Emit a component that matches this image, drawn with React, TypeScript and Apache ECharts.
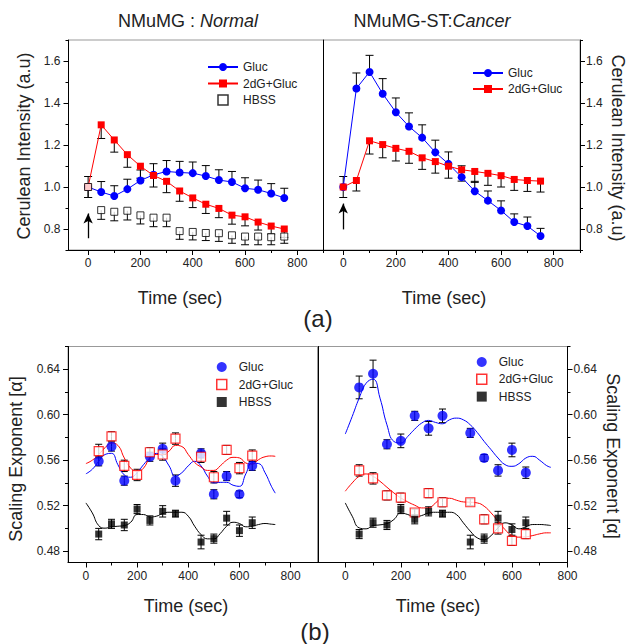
import React, { useEffect, useRef } from 'react';
import * as echarts from 'echarts';

// ---------- (a) Cerulean intensity ----------
const timeA = [0, 50, 100, 150, 200, 250, 300, 350, 400, 450, 500, 550, 600, 650, 700, 750];
const normGluc = [1.0, 0.976, 0.957, 0.99, 1.031, 1.058, 1.074, 1.069, 1.066, 1.052, 1.033, 1.024, 0.994, 0.987, 0.969, 0.948];
const normGlucErr = [0.05, 0.05, 0.049, 0.047, 0.05, 0.053, 0.052, 0.053, 0.053, 0.05, 0.049, 0.05, 0.05, 0.046, 0.047, 0.046];
const norm2dG = [1.0, 1.296, 1.224, 1.154, 1.099, 1.055, 1.027, 0.981, 0.948, 0.918, 0.898, 0.866, 0.858, 0.833, 0.814, 0.8];
const norm2dGErr = [0.05, 0.065, 0.058, 0.06, 0.057, 0.055, 0.054, 0.049, 0.046, 0.044, 0.044, 0.043, 0.043, 0.038, 0.038, 0.04];
const normHBSS = [1.0, 0.89, 0.882, 0.887, 0.865, 0.854, 0.854, 0.79, 0.786, 0.781, 0.78, 0.77, 0.764, 0.764, 0.761, 0.764];
const normHBSSErr = [0.05, 0.044, 0.043, 0.044, 0.041, 0.043, 0.043, 0.039, 0.038, 0.036, 0.039, 0.038, 0.039, 0.039, 0.036, 0.032];
const cancGluc = [1.0, 1.469, 1.548, 1.444, 1.356, 1.288, 1.235, 1.165, 1.11, 1.047, 0.98, 0.935, 0.888, 0.833, 0.814, 0.767];
const cancGlucErr = [0.05, 0.074, 0.079, 0.072, 0.068, 0.065, 0.061, 0.058, 0.057, 0.054, 0.047, 0.046, 0.046, 0.039, 0.043, 0.036];
const canc2dG = [1.0, 1.031, 1.22, 1.202, 1.184, 1.17, 1.139, 1.121, 1.099, 1.082, 1.074, 1.065, 1.054, 1.036, 1.031, 1.028];
const canc2dGErr = [0.05, 0.05, 0.063, 0.063, 0.06, 0.057, 0.055, 0.055, 0.057, 0.054, 0.052, 0.057, 0.054, 0.052, 0.052, 0.052];
const arrowNormal = [[0, 0.756], [0, 0.874]];
const arrowCancer = [[0, 0.798], [0, 0.921]];

// ---------- (b) Scaling exponent ----------
const timeB = [50, 100, 150, 200, 250, 300, 350, 450, 500, 550, 600, 650];
const alphaNormGluc = [0.559, 0.572, 0.542, null, 0.563, 0.57, 0.542, 0.566, 0.53, 0.546, 0.53, 0.555];
const alphaNormGlucErr = [0.004, 0.004, 0.004, null, 0.004, 0.005, 0.005, 0.004, 0.004, 0.004, 0.003, 0.004];
const alphaNorm2dG = [0.568, 0.581, 0.555, 0.547, 0.567, 0.565, 0.579, 0.563, 0.545, 0.569, 0.553, 0.564];
const alphaNorm2dGErr = [0.006, 0.004, 0.005, 0.005, 0.004, 0.005, 0.005, 0.005, 0.005, 0.004, 0.005, 0.005];
const alphaNormHBSS = [0.495, 0.504, 0.503, 0.517, 0.507, 0.515, 0.513, 0.488, 0.491, 0.509, 0.498, 0.505];
const alphaNormHBSSErr = [0.005, 0.004, 0.005, 0.004, 0.004, 0.005, 0.003, 0.006, 0.004, 0.006, 0.005, 0.005];
const alphaCancGluc = [0.624, 0.636, 0.574, 0.577, 0.599, 0.588, 0.599, 0.584, 0.562, 0.551, 0.569, 0.549];
const alphaCancGlucErr = [0.01, 0.012, 0.004, 0.006, 0.004, 0.006, 0.006, 0.004, 0.003, 0.005, 0.006, 0.005];
const alphaCanc2dG = [0.551, 0.544, 0.529, 0.527, 0.514, 0.531, 0.523, 0.523, 0.508, 0.5, 0.489, 0.495];
const alphaCanc2dGErr = [0.005, 0.005, 0.004, 0.004, 0.003, 0.004, 0.004, 0.003, 0.004, 0.005, 0.004, 0.004];
const alphaCancHBSS = [0.495, 0.505, 0.503, 0.517, 0.508, 0.515, 0.513, 0.488, 0.491, 0.509, 0.499, 0.505];
const alphaCancHBSSErr = [0.004, 0.004, 0.004, 0.004, 0.004, 0.004, 0.003, 0.006, 0.004, 0.006, 0.005, 0.005];

// fitted curves
const fitTime = [0, 25, 50, 75, 100, 125, 150, 175, 200, 225, 250, 275, 300, 325, 350, 375, 400, 425, 450, 475, 500, 525, 550, 575, 600, 625, 650, 675, 700, 725, 740];
const fitNormGluc = [0.548, 0.552, 0.559, 0.565, 0.566, 0.556, 0.547, 0.545, 0.549, 0.556, 0.562, 0.566, 0.563, 0.555, 0.546, 0.549, 0.555, 0.559, 0.555, 0.546, 0.54, 0.5405, 0.5405, 0.538, 0.537, 0.548, 0.5575, 0.557, 0.549, 0.537, 0.531];
const fitNorm2dG = [0.557, 0.56, 0.565, 0.571, 0.575, 0.573, 0.562, 0.553, 0.55, 0.553, 0.562, 0.565, 0.565, 0.568, 0.573, 0.572, 0.565, 0.558, 0.554, 0.551, 0.551, 0.555, 0.56, 0.5625, 0.562, 0.5575, 0.5565, 0.5605, 0.563, 0.5637, 0.5634];
const fitNormHBSS = [0.5224, 0.5136, 0.5025, 0.5002, 0.5014, 0.5019, 0.5025, 0.5054, 0.5122, 0.5122, 0.5101, 0.5107, 0.5131, 0.5142, 0.5142, 0.5142, 0.5107, 0.5019, 0.4946, 0.4908, 0.4908, 0.4955, 0.5019, 0.5054, 0.5043, 0.5014, 0.5019, 0.5034, 0.5043, 0.5037, 0.5034];
const fitCancGluc = [0.583, 0.5985, 0.6146, 0.6277, 0.6312, 0.6146, 0.5911, 0.5765, 0.5751, 0.5809, 0.5873, 0.5926, 0.595, 0.5932, 0.592, 0.5955, 0.597, 0.5955, 0.5911, 0.5844, 0.5765, 0.5692, 0.5619, 0.5561, 0.5546, 0.5569, 0.5619, 0.5634, 0.5599, 0.5552, 0.5537];
const fitCanc2dG = [0.5327, 0.54, 0.5458, 0.5479, 0.5458, 0.5414, 0.5362, 0.5312, 0.5268, 0.5233, 0.5204, 0.518, 0.518, 0.5224, 0.5265, 0.5265, 0.5248, 0.5233, 0.523, 0.5224, 0.5195, 0.5136, 0.5063, 0.499, 0.4937, 0.4923, 0.4926, 0.4937, 0.4952, 0.4961, 0.4961];
const fitCancHBSS = [0.5224, 0.5107, 0.5005, 0.4996, 0.5025, 0.5031, 0.5043, 0.5078, 0.5136, 0.5122, 0.5101, 0.5113, 0.5136, 0.5142, 0.5142, 0.5142, 0.5122, 0.5049, 0.4976, 0.4917, 0.4902, 0.4937, 0.5005, 0.5049, 0.5031, 0.4996, 0.5014, 0.5034, 0.5034, 0.503, 0.5025];

// ticks
const xMajor = [0, 200, 400, 600, 800];
const xMinorA = [100, 300, 500, 700, 900];
const xMinorB = [100, 300, 500, 700];
const yMajorA = [0.8, 1.0, 1.2, 1.4, 1.6];
const yMinorA = [0.7, 0.9, 1.1, 1.3, 1.5, 1.7];
const yMajorB = [0.48, 0.52, 0.56, 0.6, 0.64];
const yMinorB = [0.5, 0.54, 0.58, 0.62, 0.66];

const FONT = "'Liberation Sans', Arial, Helvetica, sans-serif";
const BLUE = '#0000ff';
const RED = '#ff0000';
const INK = '#222';
const SQUARE = 'path://M0,0L10,0L10,10L0,10Z';

const zip = (xs: number[], ys: (number | null)[]) => xs.map((x, i) => [x, ys[i]]).filter(p => p[1] != null);

// error bar items: [x, y, yEnd]
const errUp = (xs: number[], ys: any[], es: any[]) => xs.map((x, i) => (ys[i] == null ? null : [x, ys[i], ys[i] + es[i]])).filter(Boolean);
const errDown = (xs: number[], ys: any[], es: any[]) => xs.map((x, i) => (ys[i] == null ? null : [x, ys[i], ys[i] - es[i]])).filter(Boolean);
const errBoth = (xs: number[], ys: any[], es: any[]) => [...errUp(xs, ys, es), ...errDown(xs, ys, es)];

const makeErrRender = (half: number) => (params: any, api: any) => {
  const x = api.value(0);
  const a = api.coord([x, api.value(1)]);
  const b = api.coord([x, api.value(2)]);
  return {
    type: 'group',
    children: [
      { type: 'line', shape: { x1: a[0], y1: a[1], x2: b[0], y2: b[1] }, style: { stroke: '#000', lineWidth: 1 } },
      { type: 'line', shape: { x1: b[0] - half, y1: b[1], x2: b[0] + half, y2: b[1] }, style: { stroke: '#000', lineWidth: 1 } },
    ],
  };
};

const label = { fontSize: 12, fontFamily: FONT, color: INK };

function axesFor(g: number, xmin: number, xmax: number, ymin: number, ymax: number, yPos: 'left' | 'right', xMinor: number[], yMajor: number[], yMinor: number[], dec: number) {
  const xs = [
    {
      type: 'value', gridIndex: g, min: xmin, max: xmax, position: 'bottom',
      axisLine: { show: true, onZero: false, lineStyle: { color: '#000', width: 1 } },
      axisTick: { show: true, customValues: xMajor, length: 5, lineStyle: { color: '#000' } },
      axisLabel: { show: true, customValues: xMajor, margin: 7, ...label },
      splitLine: { show: false },
    },
    {
      type: 'value', gridIndex: g, min: xmin, max: xmax, position: 'bottom',
      axisLine: { show: false, onZero: false },
      axisTick: { show: true, customValues: xMinor, length: 3, lineStyle: { color: '#000' } },
      axisLabel: { show: false },
      splitLine: { show: false },
    },
  ];
  const ys = [
    {
      type: 'value', gridIndex: g, min: ymin, max: ymax, position: yPos,
      axisLine: { show: true, onZero: false, lineStyle: { color: '#000', width: 1 } },
      axisTick: { show: true, customValues: yMajor, length: 5, lineStyle: { color: '#000' } },
      axisLabel: { show: true, customValues: yMajor, margin: yPos === 'left' ? 8 : 6, formatter: (v: number) => v.toFixed(dec), ...label },
      splitLine: { show: false },
    },
    {
      type: 'value', gridIndex: g, min: ymin, max: ymax, position: yPos,
      axisLine: { show: false, onZero: false },
      axisTick: { show: true, customValues: yMinor, length: 3, lineStyle: { color: '#000' } },
      axisLabel: { show: false },
      splitLine: { show: false },
    },
  ];
  return { xs, ys };
}

function text(x: number, y: number, t: string, size: number, rotation = 0, rich?: any) {
  return {
    type: 'text', x, y, rotation,
    style: { text: t, fontSize: size, fontFamily: FONT, fill: INK, align: 'center', verticalAlign: 'middle', rich },
  };
}

export default function App() {
  const ref = useRef<HTMLDivElement>(null);
  useEffect(() => {
    if (!ref.current) return;
    const chart = echarts.init(ref.current, undefined, { renderer: 'svg' });

    const a0 = axesFor(0, -75, 900, 0.7, 1.7, 'left', xMinorA, yMajorA, yMinorA, 1);
    const a1 = axesFor(1, -75, 900, 0.7, 1.7, 'right', xMinorA, yMajorA, yMinorA, 1);
    const a2 = axesFor(2, -70, 907, 0.47, 0.66, 'left', xMinorB, yMajorB, yMinorB, 2);
    const a3 = axesFor(3, -100, 800, 0.47, 0.66, 'right', xMinorB, yMajorB, yMinorB, 2);
    const divider = (g: number, ymin: number, ymax: number) => ({
      type: 'value', gridIndex: g, min: ymin, max: ymax, position: 'right',
      axisLine: { show: true, onZero: false, lineStyle: { color: '#000', width: 1 } },
      axisTick: { show: false }, axisLabel: { show: false }, splitLine: { show: false },
    });
    const xAxis = [...a0.xs, ...a1.xs, ...a2.xs, ...a3.xs];
    const yAxis = [...a0.ys, ...a1.ys, ...a2.ys, ...a3.ys, divider(0, 0.7, 1.7), divider(2, 0.47, 0.66)];

    const ax = (g: number) => ({ xAxisIndex: 2 * g, yAxisIndex: 2 * g });
    const errSeries = (g: number, data: any[], half: number) => ({
      type: 'custom', ...ax(g), renderItem: makeErrRender(half), data, z: 1, silent: true,
      encode: { x: 0, y: [1, 2] },
    });
    const arrowLine = (pts: number[][]) => ({
      silent: true, symbol: ['none', 'arrow'], symbolSize: [7, 10],
      lineStyle: { color: '#000', width: 1.3, type: 'solid' }, label: { show: false },
      data: [[{ coord: pts[0] }, { coord: pts[1] }]],
    });

    const lineA = (g: number, name: string, ys: number[], color: string, symbol: string, size: number, extra: any = {}) => ({
      type: 'line', name, ...ax(g), data: zip(timeA, ys), symbol, symbolSize: size, showSymbol: true,
      lineStyle: { color, width: 1 }, itemStyle: { color }, z: 3, ...extra,
    });
    const scatterB = (g: number, name: string, ys: any[], symbol: string, size: number, itemStyle: any) => ({
      type: 'scatter', name, ...ax(g), data: zip(timeB, ys), symbol, symbolSize: size, itemStyle, z: 3,
    });
    const fit = (g: number, name: string, ys: number[], color: string) => ({
      type: 'line', name, ...ax(g), data: zip(fitTime, ys), showSymbol: false, symbol: 'none', smooth: 0.5,
      lineStyle: { color, width: 1 }, itemStyle: { color }, z: 2,
    });

    const series: any[] = [
      // top-left
      errSeries(0, errUp(timeA, normGluc, normGlucErr), 4),
      errSeries(0, errDown(timeA, norm2dG, norm2dGErr), 4),
      errSeries(0, errDown(timeA, normHBSS, normHBSSErr), 4),
      lineA(0, 'Gluc|n', normGluc, BLUE, 'circle', 8),
      lineA(0, '2dG+Gluc|n', norm2dG, RED, 'rect', 7),
      {
        type: 'scatter', name: 'HBSS|n', ...ax(0), data: zip(timeA, normHBSS), symbol: 'rect', symbolSize: 7,
        itemStyle: { color: '#fff', borderColor: '#000', borderWidth: 1 }, z: 4, markLine: arrowLine(arrowNormal),
      },
      // top-right
      errSeries(1, errUp(timeA, cancGluc, cancGlucErr), 4),
      errSeries(1, errDown(timeA, canc2dG, canc2dGErr), 4),
      lineA(1, 'Gluc|c', cancGluc, BLUE, 'circle', 8),
      lineA(1, '2dG+Gluc|c', canc2dG, RED, 'rect', 7, { markLine: arrowLine(arrowCancer) }),
      // bottom-left
      fit(2, 'fitG|nb', fitNormGluc, BLUE),
      fit(2, 'fitD|nb', fitNorm2dG, RED),
      fit(2, 'fitH|nb', fitNormHBSS, '#000'),
      errSeries(2, errBoth(timeB, alphaNormGluc, alphaNormGlucErr), 3.5),
      errSeries(2, errBoth(timeB, alphaNorm2dG, alphaNorm2dGErr), 3.5),
      errSeries(2, errBoth(timeB, alphaNormHBSS, alphaNormHBSSErr), 3.5),
      scatterB(2, 'Gluc|nb', alphaNormGluc, 'circle', 10, { color: BLUE }),
      scatterB(2, '2dG+Gluc|nb', alphaNorm2dG, 'rect', 9, { color: '#fff', borderColor: RED, borderWidth: 1.2 }),
      scatterB(2, 'HBSS|nb', alphaNormHBSS, 'rect', 7, { color: '#000' }),
      // bottom-right
      fit(3, 'fitG|cb', fitCancGluc, BLUE),
      fit(3, 'fitD|cb', fitCanc2dG, RED),
      fit(3, 'fitH|cb', fitCancHBSS, '#000'),
      errSeries(3, errBoth(timeB, alphaCancGluc, alphaCancGlucErr), 3.5),
      errSeries(3, errBoth(timeB, alphaCanc2dG, alphaCanc2dGErr), 3.5),
      errSeries(3, errBoth(timeB, alphaCancHBSS, alphaCancHBSSErr), 3.5),
      scatterB(3, 'Gluc|cb', alphaCancGluc, 'circle', 10, { color: BLUE }),
      scatterB(3, '2dG+Gluc|cb', alphaCanc2dG, 'rect', 9, { color: '#fff', borderColor: RED, borderWidth: 1.2 }),
      scatterB(3, 'HBSS|cb', alphaCancHBSS, 'rect', 7, { color: '#000' }),
    ];

    const legendBase = {
      orient: 'vertical', padding: 0, selectedMode: false, itemHeight: 10, symbolKeepAspect: true,
      formatter: (n: string) => n.split('|')[0],
      textStyle: { fontSize: 12, fontFamily: FONT, color: INK },
    };

    const titleRich = {
      n: { fontSize: 18, fontFamily: FONT, fill: INK },
      i: { fontSize: 18, fontFamily: FONT, fill: INK, fontStyle: 'italic' },
    };

    chart.setOption({
      animation: false,
      backgroundColor: '#fff',
      grid: [
        { left: 68.5, top: 40, width: 255, height: 210, show: true, borderColor: '#999', borderWidth: 1 },
        { left: 323.5, top: 40, width: 256.5, height: 210, show: true, borderColor: '#999', borderWidth: 1 },
        { left: 68, top: 346.5, width: 250, height: 216, show: true, borderColor: '#999', borderWidth: 1 },
        { left: 317.5, top: 346.5, width: 250, height: 216, show: true, borderColor: '#999', borderWidth: 1 },
      ],
      xAxis,
      yAxis,
      legend: [
        {
          ...legendBase, left: 207, top: 61, itemWidth: 30, itemGap: 4.5,
          data: ['Gluc|n', '2dG+Gluc|n', { name: 'HBSS|n', icon: SQUARE, itemStyle: { borderWidth: 1.5 } }],
        },
        { ...legendBase, data: ['Gluc|c', '2dG+Gluc|c'], left: 472, top: 67, itemWidth: 30, itemGap: 4 },
        {
          ...legendBase, left: 216, top: 361, itemWidth: 24, itemGap: 5.5,
          data: ['Gluc|nb', { name: '2dG+Gluc|nb', icon: SQUARE, itemStyle: { borderWidth: 1.5 } }, { name: 'HBSS|nb', icon: SQUARE }],
        },
        {
          ...legendBase, left: 476, top: 356, itemWidth: 24, itemGap: 5.3,
          data: ['Gluc|cb', { name: '2dG+Gluc|cb', icon: SQUARE, itemStyle: { borderWidth: 1.5 } }, { name: 'HBSS|cb', icon: SQUARE }],
        },
      ],
      graphic: [
        text(188, 21, '{n|NMuMG : }{i|Normal}', 18, 0, titleRich),
        text(432, 21, '{n|NMuMG-ST:}{i|Cancer}', 18, 0, titleRich),
        text(24, 146, 'Cerulean Intensity (a.u)', 18, Math.PI / 2),
        text(618, 148, 'Cerulean Intensity (a.u)', 18, -Math.PI / 2),
        text(180, 298, 'Time (sec)', 18),
        text(444, 298, 'Time (sec)', 18),
        text(318, 318, '(a)', 24),
        text(16, 459, 'Scaling Exponent [α]', 18, Math.PI / 2),
        text(613, 456, 'Scaling Exponent [α]', 18, -Math.PI / 2),
        text(186, 606, 'Time (sec)', 18),
        text(438, 606, 'Time (sec)', 18),
        text(315, 631, '(b)', 24),
      ],
      series,
    });
    return () => chart.dispose();
  }, []);
  return <div ref={ref} style={{ position: 'absolute', left: 0, top: 0, width: 628, height: 644 }} />;
}
